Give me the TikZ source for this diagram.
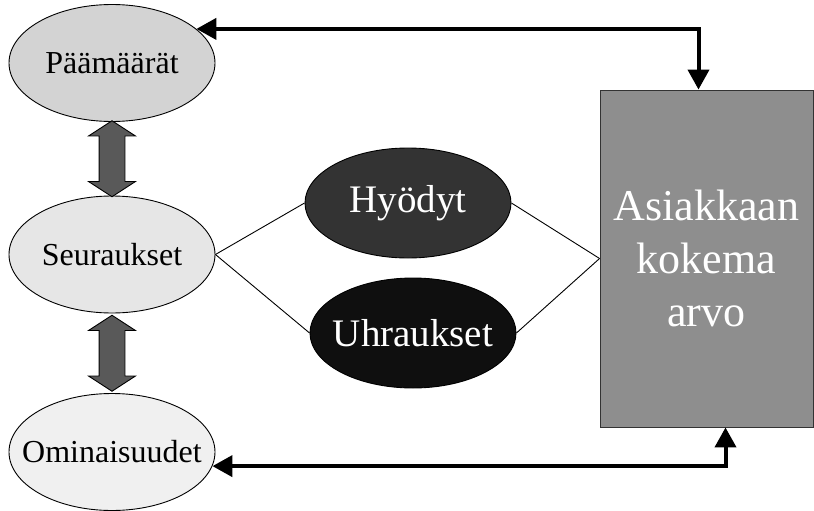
\documentclass[tikz,border=0pt]{standalone}
\usepackage{fontspec}
\setmainfont{Liberation Serif}
\usetikzlibrary{shapes.geometric,shapes.arrows,arrows.meta}
\definecolor{paamfill}{HTML}{D3D3D3}
\definecolor{seurfill}{HTML}{E6E6E6}
\definecolor{ominfill}{HTML}{F0F0F0}
\definecolor{hyodfill}{HTML}{333333}
\definecolor{uhrafill}{HTML}{0F0F0F}
\definecolor{arvofill}{HTML}{8E8E8E}
\definecolor{nuolifill}{HTML}{595959}
\tikzset{> = {Triangle[width=21pt,length=20pt]}, every picture/.style={line width=0.9pt}}

\begin{document}
\begin{tikzpicture}[x=1pt,y=-1pt,
    soikio/.style={ellipse,draw,inner sep=0pt,minimum width=206pt,minimum height=#1},
    kaksinuoli/.style={double arrow,draw,fill=nuolifill,rotate=90,inner xsep=0pt,inner ysep=12.5pt,
      minimum height=76pt,double arrow head extend=10.5pt,double arrow tip angle=114}]
\useasboundingbox (0,0) rectangle (814,511);
\begin{scope}[every label/.style={font=\fontsize{32}{36}\selectfont}]
\node[soikio=117pt,fill=paamfill,label=center:Päämäärät] (Paam) at (112,63) {};
\node[soikio=117pt,fill=seurfill,label=center:Seuraukset] (Seur) at (112,254.5) {};
\node[soikio=117pt,fill=ominfill,label=center:Ominaisuudet] (Omin) at (112,452) {};
\end{scope}

\begin{scope}[every label/.style={text=white,font=\fontsize{39}{44}\selectfont}]
\node[soikio=110pt,fill=hyodfill,label=center:Hyödyt] (Hyod) at (408,203) {};
\node[soikio=110pt,fill=uhrafill,label=center:Uhraukset] (Uhra) at (413,333) {};
\end{scope}

\node[draw=black!80,fill=arvofill,inner sep=0pt,minimum width=213pt,minimum height=337pt,
      text=white,align=center,font=\fontsize{44}{53}\selectfont] (Arvo) at (706.5,258.5)
      {Asiakkaan\\kokema\\arvo};

% kaksisuuntaiset nuolet
\path (Paam.south) -- (Seur.north) node[midway,kaksinuoli] (N1) {};
\path (Seur.south) -- (Omin.north) node[midway,kaksinuoli] (N2) {};

\begin{scope}[every edge/.style={draw}]
    \path (Seur.east) edge (Hyod.west);
    \path (Seur.east) edge (Uhra.west);
    \path (Hyod.east) edge (Arvo.west);
    \path (Uhra.east) edge (Arvo.west);
\end{scope}

\coordinate (ylos) at ([xshift=-8pt]Arvo.north);
\coordinate (alas) at ([xshift=19pt]Arvo.south);
\draw [<->, line width=4pt] (Paam.22) -- (Paam.22 -| ylos) -- (ylos);
\draw [<->, line width=4pt] (Omin.-8) -- (Omin.-8 -| alas) -- (alas);
\end{tikzpicture}
\end{document}
